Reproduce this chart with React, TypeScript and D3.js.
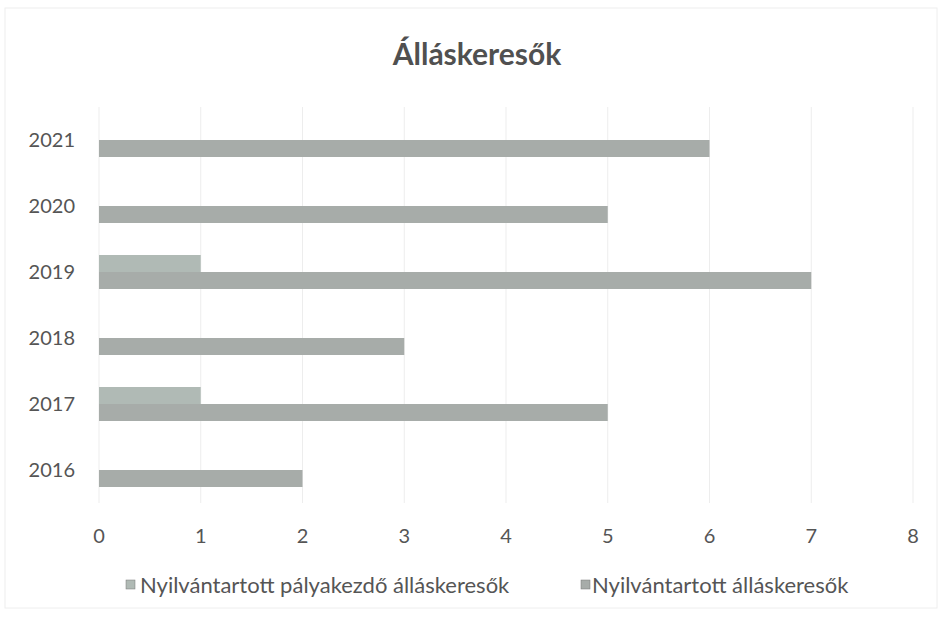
import React from "react";
import * as d3 from "d3";

const categories = ["2016", "2017", "2018", "2019", "2020", "2021"];
const palyakezdo = [0, 1, 0, 1, 0, 0];
const allaskeresok = [2, 5, 3, 7, 5, 6];
const xTicks = [0, 1, 2, 3, 4, 5, 6, 7, 8];
const seriesNames = ["Nyilvántartott pályakezdő álláskeresők", "Nyilvántartott álláskeresők"];
const title = "Álláskeresők";

export default function App() {
  const W = 943, H = 620;
  const left = 99, right = 913, top = 107, bottom = 503;
  const x = d3.scaleLinear().domain([0, 8]).range([left, right]);
  const y = d3.scaleBand<string>().domain([...categories].reverse()).range([top, bottom]);
  const barH = 17;
  const font = "Lato, 'Open Sans', sans-serif";
  const c1 = "#b0bab5";
  const c2 = "#a7aca9";
  return (
    <svg width={W} height={H} style={{ position: "absolute", left: 0, top: 0, background: "#fff" }}>
      <rect x={5} y={8} width={932} height={600} fill="#fff" stroke="#eeeeee" />
      <text x={477} y={65} textAnchor="middle" fontFamily={font} fontWeight="bold" fontSize={30} fill="#505050">{title}</text>
      {xTicks.map(t => (
        <line key={t} x1={x(t)} x2={x(t)} y1={top} y2={bottom} stroke="#ededed" strokeWidth={1} />
      ))}
      {categories.map((c, i) => {
        const cy = (y(c) as number) + y.bandwidth() / 2;
        return (
          <g key={c}>
            <rect x={x(0)} y={cy - barH} width={x(palyakezdo[i]) - x(0)} height={barH} fill={c1} />
            <rect x={x(0)} y={cy} width={x(allaskeresok[i]) - x(0)} height={barH} fill={c2} />
            <text x={75} y={cy + 7} textAnchor="end" fontFamily={font} fontSize={20} fill="#555">{c}</text>
          </g>
        );
      })}
      {xTicks.map(t => (
        <text key={t} x={x(t)} y={543} textAnchor="middle" fontFamily={font} fontSize={20} fill="#555">{t}</text>
      ))}
      <rect x={126} y={580} width={9} height={9} fill={c1} stroke="#777" strokeWidth={0.5} />
      <text x={140} y={593} fontFamily={font} fontSize={22} fill="#555">{seriesNames[0]}</text>
      <rect x={581} y={580} width={9} height={9} fill={c2} stroke="#777" strokeWidth={0.5} />
      <text x={592} y={593} fontFamily={font} fontSize={22} fill="#555">{seriesNames[1]}</text>
    </svg>
  );
}
